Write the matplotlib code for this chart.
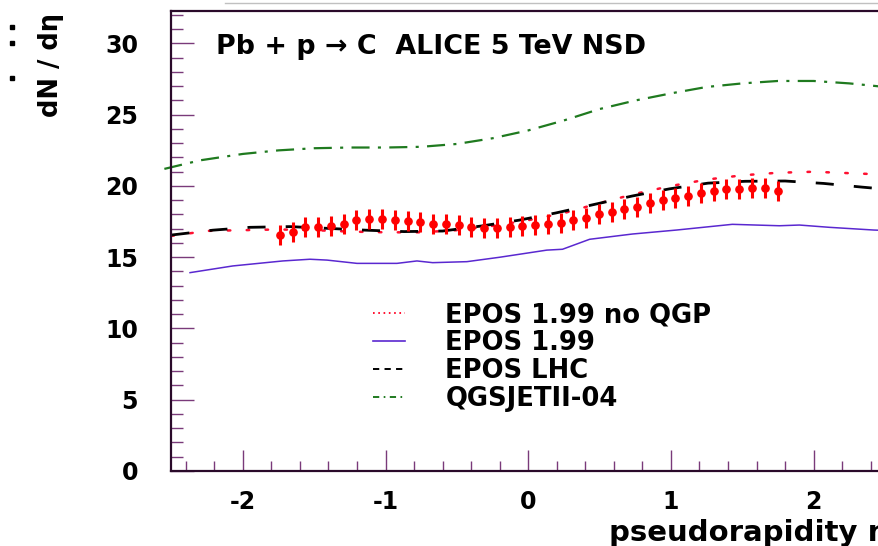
import matplotlib
matplotlib.use("Agg")
import matplotlib.pyplot as plt
from matplotlib.lines import Line2D
from matplotlib.ticker import MultipleLocator

plt.rcParams['font.family'] = ['DejaVu Sans']
plt.rcParams['font.weight'] = 'bold'
plt.rcParams['lines.scale_dashes'] = False

# ---------------- data ----------------
data_eta = [-1.740, -1.651, -1.561, -1.472, -1.382, -1.293, -1.204, -1.114, -1.025, -0.935,
            -0.846, -0.757, -0.667, -0.578, -0.488, -0.399, -0.310, -0.220, -0.131, -0.041,
            0.048, 0.137, 0.227, 0.316, 0.406, 0.495, 0.584, 0.674, 0.763, 0.853,
            0.942, 1.031, 1.121, 1.210, 1.300, 1.389, 1.478, 1.568, 1.657, 1.747]
data_val = [16.56, 16.75, 17.10, 17.15, 17.19, 17.33, 17.64, 17.68, 17.71, 17.64,
            17.54, 17.45, 17.33, 17.31, 17.24, 17.15, 17.08, 17.08, 17.10, 17.19,
            17.28, 17.33, 17.42, 17.61, 17.75, 18.04, 18.15, 18.36, 18.54, 18.79,
            19.02, 19.14, 19.32, 19.49, 19.65, 19.79, 19.79, 19.88, 19.88, 19.65]
data_err = [0.7] * 40

noqgp_eta = [-2.5, -2.25, -2.0, -1.75, -1.5, -1.25, -1.0, -0.75, -0.5, -0.25, 0.0,
             0.25, 0.5, 0.75, 1.0, 1.25, 1.5, 1.75, 2.0, 2.25, 2.5]
noqgp_val = [16.5, 16.85, 16.9, 16.95, 16.9, 16.8, 16.75, 16.75, 16.9, 17.2, 17.6,
             18.1, 18.8, 19.45, 20.0, 20.45, 20.75, 20.93, 21.0, 20.9, 20.8]

epos199_eta = [-2.37, -2.07, -1.72, -1.53, -1.41, -1.20, -0.92, -0.78, -0.67, -0.43, -0.20,
               0.13, 0.24, 0.43, 0.73, 1.04, 1.43, 1.76, 1.90, 2.11, 2.42, 2.5]
epos199_val = [13.92, 14.39, 14.74, 14.86, 14.80, 14.57, 14.57, 14.74, 14.62, 14.69, 15.0,
               15.5, 15.56, 16.26, 16.63, 16.91, 17.31, 17.21, 17.26, 17.10, 16.91, 16.88]

eposlhc_eta = [-2.5, -2.21, -1.95, -1.67, -1.41, -1.14, -0.87, -0.60, -0.33, -0.065,
               0.19, 0.46, 0.73, 0.99, 1.26, 1.52, 1.80, 2.07, 2.34, 2.5]
eposlhc_val = [16.56, 16.9, 17.1, 17.15, 17.03, 16.9, 16.8, 16.84, 17.19, 17.6,
               18.1, 18.7, 19.3, 19.8, 20.2, 20.33, 20.35, 20.18, 19.92, 19.78]

qgs_eta = [-2.55, -2.3, -2.0, -1.75, -1.5, -1.25, -1.0, -0.75, -0.5, -0.25, 0.0,
           0.25, 0.5, 0.75, 1.0, 1.25, 1.5, 1.75, 2.0, 2.25, 2.5]
qgs_val = [21.2, 21.8, 22.25, 22.5, 22.65, 22.7, 22.7, 22.75, 22.95, 23.35, 23.9,
           24.6, 25.4, 26.0, 26.5, 26.95, 27.2, 27.37, 27.37, 27.2, 26.95]

labels = ["EPOS 1.99 no QGP", "EPOS 1.99", "EPOS LHC", "QGSJETII-04"]
title_text = "Pb + p \u2192 C  ALICE 5 TeV NSD"

# ---------------- figure ----------------
W, H = 879, 546
fig = plt.figure(figsize=(W / 100, H / 100), dpi=100)
ax = fig.add_axes([171.5 / W, (H - 471) / H, (885 - 171.5) / W, (471 - 11) / H])
ax.set_xlim(-2.5, 2.5)
ax.set_ylim(0, 32.28)

frame_col = '#2a0a2a'
tick_col = '#7a3a7a'
for s in ['left', 'bottom', 'top']:
    ax.spines[s].set_color(frame_col)
    ax.spines[s].set_linewidth(1.6)
ax.spines['right'].set_visible(False)

ax.xaxis.set_major_locator(MultipleLocator(1))
ax.xaxis.set_minor_locator(MultipleLocator(0.2))
ax.yaxis.set_major_locator(MultipleLocator(5))
ax.yaxis.set_minor_locator(MultipleLocator(1))
ax.tick_params(axis='x', which='major', direction='in', length=15, width=1.0,
               color=tick_col, pad=14, labelsize=17)
ax.tick_params(axis='x', which='minor', direction='in', length=7.5, width=1.0, color=tick_col)
ax.tick_params(axis='y', which='major', direction='in', length=16.5, width=1.0,
               color=tick_col, pad=24, labelsize=17)
ax.tick_params(axis='y', which='minor', direction='in', length=8.5, width=1.0, color=tick_col)
ax.set_xticks([-2, -1, 0, 1, 2])
ax.set_xticklabels(['-2', '-1', '0', '1', '2'])
for lab in ax.get_xticklabels() + ax.get_yticklabels():
    lab.set_fontweight('bold')

# curves
ax.plot(noqgp_eta, noqgp_val, color='#ff1030', lw=1.8,
        linestyle=(0, (1.8, 11.8)), dash_capstyle='round')
ax.plot(epos199_eta, epos199_val, color='#5a28d0', lw=1.1)
ax.plot(eposlhc_eta, eposlhc_val, color='black', lw=2.0, linestyle=(0, (13, 14.5)))
ax.plot(qgs_eta, qgs_val, color='#1f7a1f', lw=1.6,
        linestyle=(0, (13, 6, 2.2, 6)), clip_on=False)

# data
ax.errorbar(data_eta, data_val, yerr=data_err, fmt='o', color='#ff0000',
            ms=5.2, elinewidth=2.2, capsize=0, zorder=5)

# legend (proxy handles with the short legend dash patterns)
h_noqgp = Line2D([], [], color='#ff1030', lw=1.4, linestyle=(0, (1.2, 2.6)))
h_epos = Line2D([], [], color='#5a28d0', lw=1.2)
h_lhc = Line2D([], [], color='black', lw=1.4, linestyle=(0, (4.5, 3.8)))
h_qgs = Line2D([], [], color='#1f7a1f', lw=1.4, linestyle=(0, (4.5, 3.2, 1.2, 3.2)))
leg = ax.legend([h_noqgp, h_epos, h_lhc, h_qgs], labels, frameon=False,
                loc='upper left', bbox_to_anchor=(373 / W, (H - 302) / H),
                bbox_transform=fig.transFigure, borderpad=0, borderaxespad=0,
                handlelength=1.25, handletextpad=1.55, labelspacing=0.08,
                prop={'family': 'DejaVu Sans', 'weight': 'bold', 'size': 18.6})

# title text
fig.text(216 / W, (H - 47) / H, title_text, ha='left', va='center',
         fontsize=19.4, fontweight='bold')

# axis titles
fig.text(888 / W, (H - 533) / H, "pseudorapidity \u03b7", ha='right', va='center',
         fontsize=21, fontweight='bold')
fig.text(51 / W, (H - 13) / H, "dN / d\u03b7", ha='center', va='top', rotation=90,
         fontsize=18.5, fontweight='bold')

# small artifacts
fig.add_artist(Line2D([225 / W, 1.0], [(H - 3) / H] * 2, color='#c0c0c0', lw=1.0))
fig.add_artist(Line2D([12 / W, 12 / W, 12 / W], [(H - 27) / H, (H - 43) / H, (H - 78) / H],
                      linestyle='none', marker='s', ms=2.2, color='black'))

fig.savefig('out.png', dpi=100)
